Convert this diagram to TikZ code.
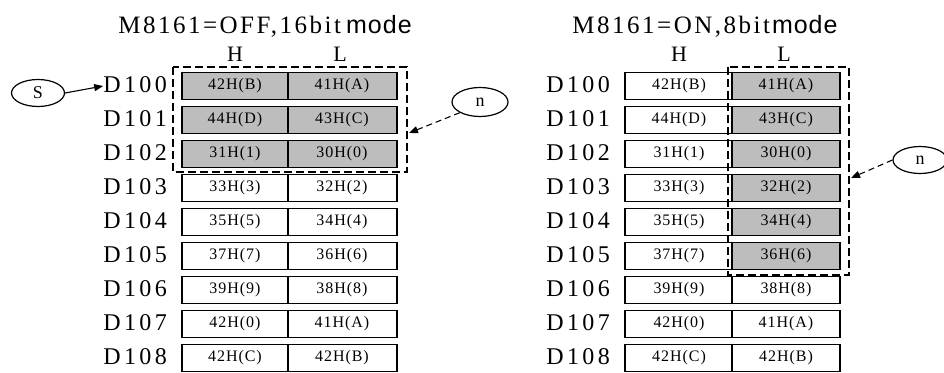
\documentclass[tikz,border=0pt]{standalone}
\usepackage{fontspec}
\setmainfont{Liberation Serif}
\newfontfamily\lblfont[LetterSpace=14]{Liberation Serif}
\newfontfamily\ttlfont[LetterSpace=10]{Liberation Serif}
\newfontfamily\cellfont[LetterSpace=6]{Liberation Serif}
\newfontfamily\modefont[LetterSpace=4]{Liberation Sans}
\usetikzlibrary{arrows.meta,shapes.geometric}
\definecolor{cellgrey}{HTML}{BDBDBD}
\tikzset{
  rowbox/.style={draw=black, line width=1.5pt},
  celltext/.style={font=\cellfont\fontsize{16}{16}\selectfont, inner sep=0pt},
  dlabel/.style={font=\lblfont\fontsize{24}{24}\selectfont, inner sep=0pt, anchor=east},
  hl/.style={font=\fontsize{22}{22}\selectfont, inner sep=0pt},
  ttl/.style={inner sep=0pt},
  dashbox/.style={draw=black, line width=1.3pt, dash pattern=on 8pt off 4pt},
  oval/.style={draw=black, line width=1.2pt, ellipse, inner sep=0pt, font=\fontsize{18}{18}\selectfont},
  arr/.style={-{Triangle[length=9pt,width=7pt]}, line width=1.1pt},
  dasharr/.style={arr, dash pattern=on 6pt off 4pt},
}
\begin{document}
\begin{tikzpicture}[x=1pt,y=-1pt]
\useasboundingbox (0,0) rectangle (944,372);
% titles
\node[ttl] (t1) at (265,26) {\ttlfont\fontsize{25}{25}\selectfont M8161=OFF,16bit\hspace{5pt}{\modefont\fontsize{25}{25}\selectfont mode}};
\node[ttl] (t2) at (705,26) {\ttlfont\fontsize{25}{25}\selectfont M8161=ON,8bit\hspace{2pt}{\modefont\fontsize{25}{25}\selectfont mode}};
\node[hl] (h1) at (235,54) {H};
\node[hl] (l1) at (340,54) {L};
\node[hl] (h2) at (679,54) {H};
\node[hl] (l2) at (784,54) {L};
\foreach \i/\hv/\lv in {0/42H(B)/41H(A),1/44H(D)/43H(C),2/31H(1)/30H(0),3/33H(3)/32H(2),4/35H(5)/34H(4),5/37H(7)/36H(6),6/39H(9)/38H(8),7/42H(0)/41H(A),8/42H(C)/42H(B)}{
  \pgfmathsetmacro{\cy}{86+34*\i}
  % left table
  \ifnum\i<3
    \fill[cellgrey] (182,\cy-13.5) rectangle (397,\cy+13.5);
  \fi
  \draw[rowbox] (182,\cy-13.5) rectangle (397,\cy+13.5);
  \draw[rowbox] (288,\cy-13.5) -- (288,\cy+13.5);
  \node[celltext] (lh\i) at (235,\cy) {\hv};
  \node[celltext] (ll\i) at (342,\cy) {\lv};
  \node[dlabel] (ld\i) at (167,\cy-1) {D10\i};
  % right table
  \ifnum\i<6
    \fill[cellgrey] (732,\cy-13.5) rectangle (840,\cy+13.5);
  \fi
  \draw[rowbox] (625,\cy-13.5) rectangle (840,\cy+13.5);
  \draw[rowbox] (732,\cy-13.5) -- (732,\cy+13.5);
  \node[celltext] (rh\i) at (679,\cy) {\hv};
  \node[celltext] (rl\i) at (786,\cy) {\lv};
  \node[dlabel] (rd\i) at (610,\cy-1) {D10\i};
}
% dashed boxes
\draw[dashbox] (173,67) rectangle (407,172);
\draw[dashbox] (728,67) rectangle (849,275);
% ovals
\node[oval, minimum width=53pt, minimum height=27pt] (S) at (38,93) {S};
\node[oval, minimum width=56pt, minimum height=29pt] (n1) at (480,102) {n};
\node[oval, minimum width=54pt, minimum height=27pt] (n2) at (920,160) {n};
\coordinate (e1) at (409,133);
\coordinate (e2) at (851,178);
\draw[arr] (S.east) -- ([yshift=-1pt]ld0.west);
\draw[dasharr] (n1.south west) -- (e1);
\draw[dasharr] (n2.west) -- (e2);
\end{tikzpicture}
\end{document}
